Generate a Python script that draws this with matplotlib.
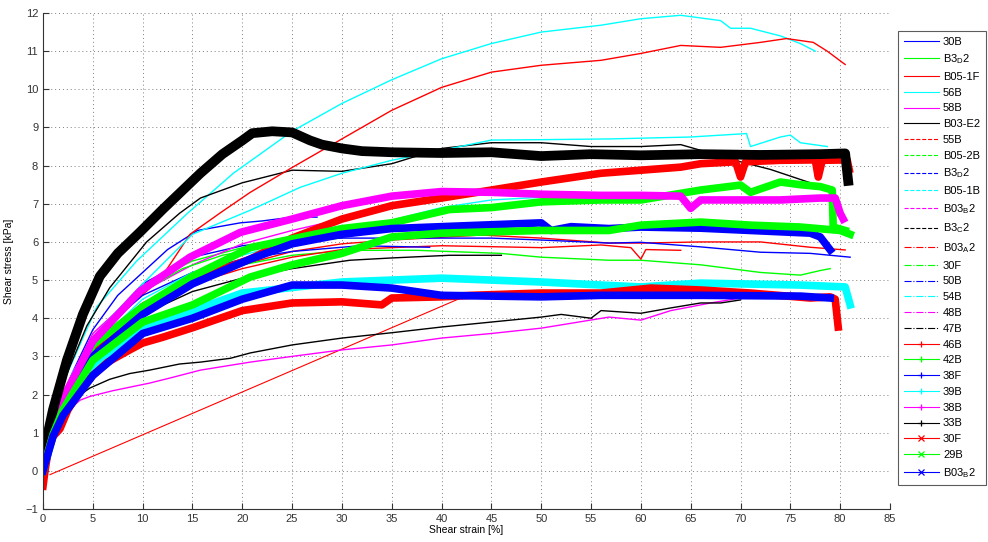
import matplotlib
matplotlib.use("Agg")
import matplotlib.pyplot as plt
from matplotlib.lines import Line2D

plt.rcParams["font.family"] = ["Liberation Sans", "DejaVu Sans"]
plt.rcParams["mathtext.fontset"] = "custom"
plt.rcParams["mathtext.rm"] = "Liberation Sans"

# ---- data (strain [%], stress [kPa]) ----
strain_30B = [0, 1, 2, 3, 5, 7.5, 10, 12.5, 15.5, 19.8, 22, 25, 27.5]
stress_30B = [0, 1.3, 2.0, 2.6, 3.7, 4.6, 5.2, 5.8, 6.3, 6.5, 6.55, 6.65, 6.65]

strain_B3D2 = [0, 1, 2, 5, 8, 10, 13, 15, 20, 25, 30]
stress_B3D2 = [0, 1.1, 1.8, 3.4, 4.3, 4.8, 5.25, 5.5, 5.85, 6.0, 6.1]

strain_B051F = [0, 1, 2, 5, 10, 15, 20, 25, 30, 35, 44, 50, 56.8, 60, 66, 72, 77, 80.5]
stress_B051F = [0, 1.0, 1.7, 3.2, 4.4, 5.0, 5.4, 5.75, 5.95, 6.05, 6.18, 6.1, 5.97, 5.97, 6.0, 6.0, 5.86, 5.79]

strain_56B = [0, 1, 2, 5.4, 9.4, 14.5, 19.1, 25, 30, 35, 40, 45, 50, 56, 60, 64, 68, 69, 71, 74, 76, 77.5]
stress_56B = [0, 1.5, 2.3, 4.3, 5.5, 6.75, 7.8, 8.9, 9.63, 10.25, 10.8, 11.2, 11.5, 11.68, 11.85, 11.94, 11.8, 11.6, 11.6, 11.4, 11.2, 11.0]

strain_58B = [0, 1, 2, 5, 10, 15, 20, 25, 30, 35, 40, 45]
stress_58B = [0, 1.3, 2.0, 3.6, 4.8, 5.6, 6.2, 6.6, 6.9, 7.15, 7.3, 7.3]

strain_B03E2 = [0, 1, 2, 4.4, 6.7, 10.4, 13.7, 15.8, 20, 25, 30, 35, 40, 45, 50, 55, 60, 64, 66, 70, 73, 77]
stress_B03E2 = [0, 1.4, 2.3, 3.8, 4.8, 6.0, 6.75, 7.15, 7.55, 7.88, 7.85, 8.05, 8.45, 8.6, 8.6, 8.5, 8.5, 8.55, 8.4, 8.1, 7.9, 7.55]

strain_55B = [0, 1, 3, 6, 9, 11.7, 14.75, 18, 20.8, 25, 30, 35, 40, 45, 50, 56, 60, 64, 68, 72, 74.6, 77.3, 78.7, 80.5]
stress_55B = [0, 1.0, 2.3, 3.6, 4.4, 5.0, 6.2, 6.8, 7.3, 7.95, 8.7, 9.45, 10.05, 10.45, 10.63, 10.76, 10.94, 11.15, 11.1, 11.23, 11.33, 11.23, 11.0, 10.65]

strain_B052B = [0, 1, 3, 6, 10, 15, 20, 25, 30.8, 37.5, 45.9, 50, 56.8, 60, 66, 72, 76, 78, 79]
stress_B052B = [0, 1.0, 2.3, 3.5, 4.4, 5.0, 5.4, 5.65, 5.78, 5.78, 5.7, 5.6, 5.52, 5.52, 5.4, 5.2, 5.13, 5.25, 5.3]

strain_B3D2b = [0, 1, 2, 5, 10, 15, 20, 25, 30, 40, 45, 50, 56.8, 60, 66, 72, 77, 81]
stress_B3D2b = [0, 1.2, 1.9, 3.5, 4.9, 5.6, 5.9, 6.05, 6.1, 6.1, 6.1, 6.05, 5.97, 5.99, 5.87, 5.73, 5.7, 5.6]

strain_B051B = [0, 1, 3, 6, 10, 15, 20.8, 25.8, 30, 35, 40, 45, 50, 57, 65, 70.6, 71, 74, 75, 76, 78.7]
stress_B051B = [0, 1.2, 2.6, 3.8, 4.9, 6.2, 6.83, 7.43, 7.8, 8.14, 8.4, 8.67, 8.68, 8.7, 8.75, 8.84, 8.5, 8.75, 8.8, 8.6, 8.5]

strain_B03B2 = [0, 1, 2, 5, 10, 15, 20, 25, 30]
stress_B03B2 = [0, 1.2, 1.9, 3.4, 4.7, 5.4, 5.95, 6.3, 6.6]

strain_B3C2 = [0, 1, 3, 6, 10, 15, 20, 25, 30.8, 35, 40.8, 46]
stress_B3C2 = [0, 1.0, 2.1, 3.2, 4.1, 4.7, 5.05, 5.3, 5.52, 5.58, 5.65, 5.65]

strain_B03A2 = [0, 1, 3, 6, 10, 15, 20, 25, 30, 40, 50, 56, 59, 60, 60.5, 64]
stress_B03A2 = [0, 1.0, 2.3, 3.4, 4.3, 4.9, 5.3, 5.6, 5.8, 5.9, 5.85, 5.92, 5.85, 5.55, 5.8, 5.78]

strain_30F_dd = [0, 1, 3, 6, 10, 14, 18, 22]
stress_30F_dd = [0, 1.2, 2.5, 3.7, 4.7, 5.3, 5.65, 5.85]

strain_50B = [0, 1, 3, 6, 10, 15, 20, 25, 31.8, 38.8]
stress_50B = [0, 1.1, 2.4, 3.7, 4.6, 5.2, 5.55, 5.75, 5.9, 5.86]

strain_54B = [0, 1, 3, 6, 10, 15, 20, 25, 30, 35, 40, 45, 50, 56]
stress_54B = [0, 1.0, 2.3, 3.5, 4.5, 5.2, 5.65, 6.0, 6.3, 6.57, 6.9, 7.1, 7.17, 7.2]

strain_48B = [1.5, 2.4, 3.7, 4.7, 7, 10.7, 13, 15.8, 20.8, 25, 30, 35, 40, 45, 50, 56.8, 60, 63, 67, 70]
stress_48B = [1.2, 1.55, 1.85, 1.95, 2.1, 2.3, 2.45, 2.64, 2.85, 3.0, 3.17, 3.3, 3.48, 3.6, 3.74, 4.03, 3.95, 4.2, 4.4, 4.53]

strain_47B = [3.5, 4.7, 6.7, 8.7, 10.7, 13.7, 15.8, 18.8, 20.8, 25, 30, 35, 40, 45, 50, 52, 55, 56, 60, 63, 66, 68, 70]
stress_47B = [1.95, 2.17, 2.4, 2.55, 2.64, 2.8, 2.85, 2.95, 3.09, 3.3, 3.48, 3.62, 3.77, 3.9, 4.03, 4.1, 4.0, 4.2, 4.13, 4.27, 4.4, 4.4, 4.48]

strain_46B = [0, 1, 2, 5, 10, 15, 20.8, 25, 30, 35, 40, 45, 50, 56, 60, 64, 66, 69.5, 70, 70.5, 74, 77.5, 77.8, 78.2, 80.7, 80.9]
stress_46B = [0, 1.1, 1.8, 3.2, 4.3, 5.0, 5.55, 6.1, 6.6, 6.95, 7.15, 7.36, 7.57, 7.8, 7.88, 7.96, 8.05, 8.1, 7.7, 8.1, 8.14, 8.15, 7.7, 8.14, 8.15, 7.9]

strain_42B = [0, 1, 2, 5, 10, 15, 20.8, 30, 35, 40.8, 45, 50, 56, 60, 66, 70, 71, 74, 76, 78, 79.2, 79.3, 80.5]
stress_42B = [0, 1.1, 1.8, 3.3, 4.3, 5.1, 5.85, 6.35, 6.5, 6.85, 6.9, 7.05, 7.1, 7.1, 7.36, 7.49, 7.3, 7.57, 7.5, 7.45, 7.36, 6.39, 6.3]

strain_38F = [0, 1, 2, 5, 10, 15, 20.8, 25, 30, 35, 40, 45, 50, 51, 53, 56.8, 60, 66, 71, 77, 78, 79]
stress_38F = [0, 1.0, 1.6, 3.0, 4.1, 4.9, 5.55, 5.95, 6.2, 6.35, 6.4, 6.45, 6.5, 6.3, 6.4, 6.35, 6.39, 6.36, 6.3, 6.23, 6.13, 5.79]

strain_39B = [0, 1, 2, 5, 10, 15, 20, 30, 40, 50, 56, 60, 66, 76, 80.5, 81]
stress_39B = [0, 0.9, 1.5, 2.7, 3.8, 4.2, 4.66, 4.95, 5.05, 4.95, 4.87, 4.82, 4.92, 4.87, 4.82, 4.35]

strain_38B = [0, 1, 2, 5, 9.7, 14.75, 19.8, 25, 30, 35, 40, 45, 50, 56, 60, 64, 65, 66, 70, 74, 78, 79.5, 80, 80.3]
stress_38B = [0, 1.2, 1.9, 3.4, 4.7, 5.6, 6.25, 6.6, 6.95, 7.2, 7.32, 7.3, 7.25, 7.22, 7.22, 7.2, 6.88, 7.1, 7.1, 7.1, 7.15, 7.15, 6.75, 6.6]

strain_33B = [0, 0.5, 1, 2.4, 4, 5.7, 7.5, 9.7, 12, 15.8, 18, 20, 21, 23, 25, 26.8, 28, 30, 32, 35, 40, 45, 50, 55, 60, 66, 72, 78, 80.5, 80.8]
stress_33B = [0, 1.0, 1.6, 2.9, 4.1, 5.1, 5.7, 6.25, 6.85, 7.8, 8.3, 8.66, 8.85, 8.9, 8.87, 8.66, 8.55, 8.45, 8.38, 8.35, 8.33, 8.35, 8.25, 8.3, 8.27, 8.3, 8.28, 8.3, 8.32, 7.6]

strain_30F = [0, 0.2, 0.5, 1, 1.7, 2.5, 3.7, 5, 6.5, 8.7, 10, 12, 15, 20, 25, 30, 34, 35, 40, 43, 50, 56, 61, 66, 71, 77, 79, 79.5, 79.8]
stress_30F = [-0.4, 0, 0.5, 0.9, 1.1, 1.6, 2.1, 2.5, 2.85, 3.17, 3.35, 3.5, 3.75, 4.2, 4.4, 4.43, 4.35, 4.53, 4.56, 4.6, 4.66, 4.66, 4.79, 4.74, 4.66, 4.53, 4.56, 4.5, 3.77]
strain_30F_jump = [0.7, 43]
stress_30F_jump = [-0.1, 4.65]

strain_29B = [0, 1, 2, 5, 10, 15, 20.8, 25, 30, 35, 40, 50, 56.8, 60, 66, 71, 76, 80, 81]
stress_29B = [0, 0.95, 1.6, 2.9, 3.9, 4.35, 5.08, 5.4, 5.7, 6.13, 6.23, 6.3, 6.3, 6.44, 6.52, 6.44, 6.39, 6.3, 6.2]

strain_B03B2x = [0, 1, 2, 5, 10, 15, 20, 25, 30, 35, 40, 50, 56, 66, 76, 79]
stress_B03B2x = [0, 0.9, 1.45, 2.5, 3.6, 4.0, 4.5, 4.87, 4.87, 4.79, 4.6, 4.56, 4.6, 4.6, 4.58, 4.53]

labels = ["30B", "B3$_\\mathregular{D}$2", "B05-1F", "56B", "58B", "B03-E2",
          "55B", "B05-2B", "B3$_\\mathregular{D}$2", "B05-1B", "B03$_\\mathregular{B}$2",
          "B3$_\\mathregular{C}$2", "B03$_\\mathregular{A}$2", "30F", "50B", "54B", "48B",
          "47B", "46B", "42B", "38F", "39B", "38B", "33B", "30F", "29B",
          "B03$_\\mathregular{B}$2"]

series = [
    (strain_30B, stress_30B), (strain_B3D2, stress_B3D2), (strain_B051F, stress_B051F),
    (strain_56B, stress_56B), (strain_58B, stress_58B), (strain_B03E2, stress_B03E2),
    (strain_55B, stress_55B), (strain_B052B, stress_B052B), (strain_B3D2b, stress_B3D2b),
    (strain_B051B, stress_B051B), (strain_B03B2, stress_B03B2), (strain_B3C2, stress_B3C2),
    (strain_B03A2, stress_B03A2), (strain_30F_dd, stress_30F_dd), (strain_50B, stress_50B),
    (strain_54B, stress_54B), (strain_48B, stress_48B), (strain_47B, stress_47B),
    (strain_46B, stress_46B), (strain_42B, stress_42B), (strain_38F, stress_38F),
    (strain_39B, stress_39B), (strain_38B, stress_38B), (strain_33B, stress_33B),
    (strain_30F, stress_30F), (strain_29B, stress_29B), (strain_B03B2x, stress_B03B2x),
]

B, G, R, C, M, K = "#0000ff", "#00ff00", "#ff0000", "#00ffff", "#ff00ff", "#000000"
colors = [B, G, R, C, M, K,
          R, G, B, C, M, K,
          R, G, B, C, M, K,
          R, G, B, C, M, K,
          R, G, B]
linestyles = ["-"] * 6 + ["--"] * 6 + ["-."] * 6 + ["-"] * 9
markers = [None] * 18 + ["+"] * 6 + ["x"] * 3

fig = plt.figure(figsize=(9.88, 5.42), dpi=100)
ax = fig.add_axes([43 / 988, 1 - 509 / 542, 847 / 988, 496 / 542])

for i, (sx, sy) in enumerate(series):
    col, mk = colors[i], markers[i]
    lw = 1.0 if mk is None else 5.5
    if labels[i] == "33B":
        lw = 7
    ax.plot(sx, sy, color=col, lw=lw, solid_joinstyle="round", zorder=2 + i * 0.01)
    if i == 24:
        ax.plot(strain_30F_jump, stress_30F_jump, color=col, lw=0.8, zorder=2)

ax.set_xlim(0, 85)
ax.set_ylim(-1, 12)
ax.set_xticks(range(0, 86, 5))
ax.set_yticks(range(-1, 13))
ax.grid(True, color="#7f7f7f", linestyle=(0, (1, 3)), lw=0.7)
ax.set_axisbelow(True)
for s in ["top", "right"]:
    ax.spines[s].set_visible(False)
for s in ["left", "bottom"]:
    ax.spines[s].set_color("#333333")
    ax.spines[s].set_linewidth(0.8)
ax.tick_params(direction="in", length=4, labelsize=8, colors="#333333", width=0.8)
ax.set_xlabel("Shear strain [%]", fontsize=7.5, labelpad=1)
ax.set_ylabel("Shear stress [kPa]", fontsize=7.5, labelpad=8)

handles = []
for col, ls, mk in zip(colors, linestyles, markers):
    handles.append(Line2D([], [], color=col, ls=ls, marker=mk, lw=0.8, markersize=5,
                          markeredgewidth=0.9))
leg = fig.legend(handles, labels, loc="upper left", bbox_to_anchor=(898 / 988, 1 - 31 / 542),
                 bbox_transform=fig.transFigure, borderaxespad=0, fontsize=8,
                 frameon=True, fancybox=False, edgecolor="#333333", handlelength=3.2,
                 handletextpad=0.35, labelspacing=0.52, borderpad=0.5)
leg.get_frame().set_linewidth(0.8)

fig.savefig("out.png", dpi=100)
